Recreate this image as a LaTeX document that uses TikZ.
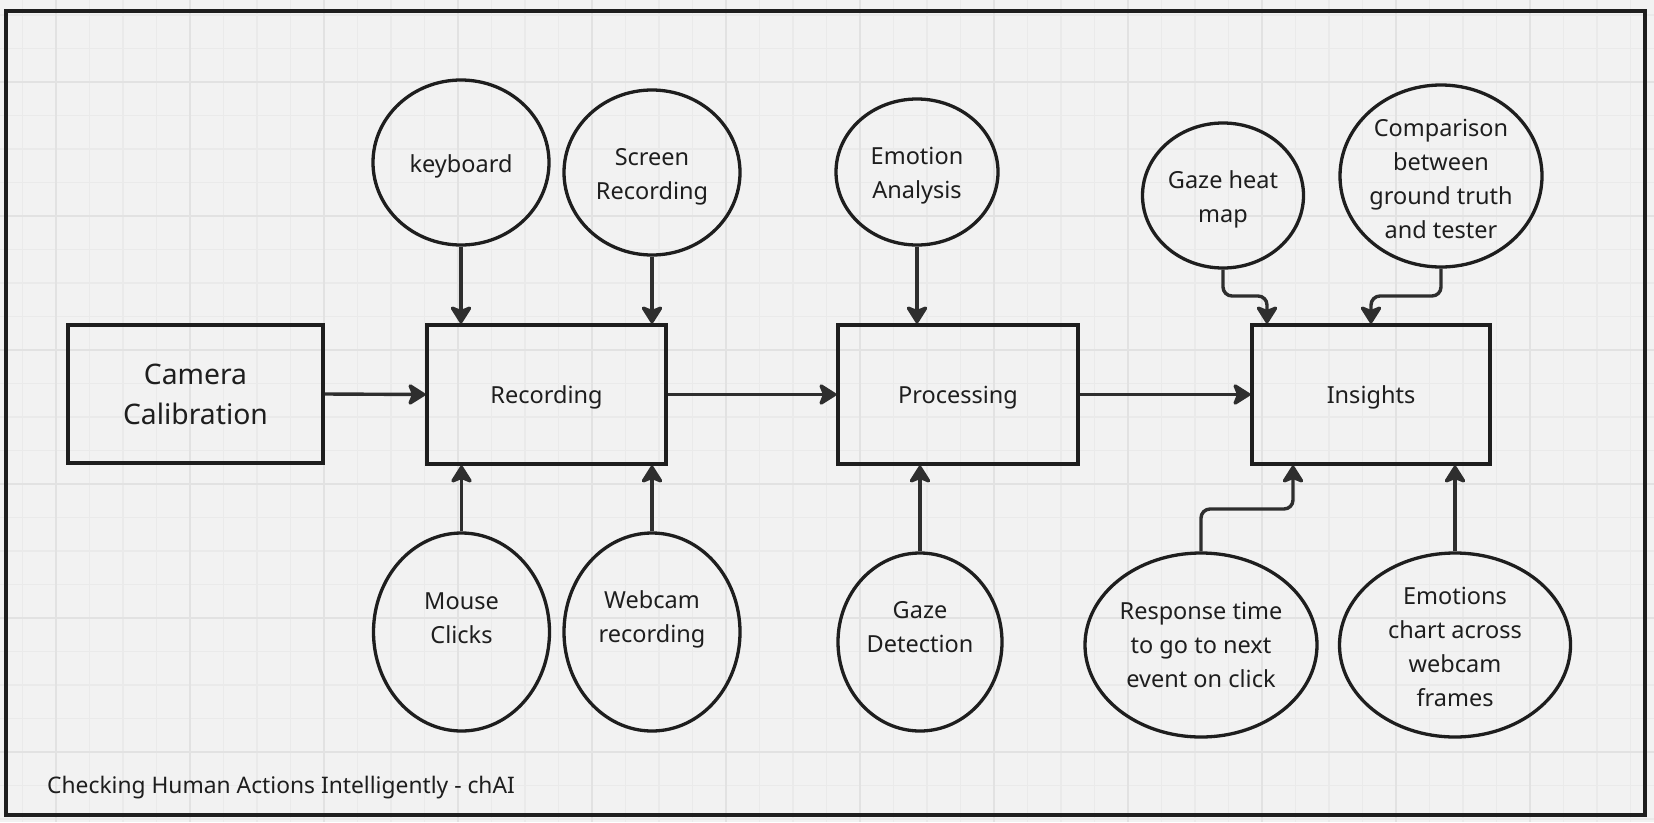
\documentclass[tikz,border=0pt]{standalone}
\usepackage{fontspec}
\setmainfont{Noto Sans}
\usetikzlibrary{shapes.geometric,arrows.meta}
\definecolor{bg}{HTML}{F2F2F2}
\definecolor{gminor}{HTML}{EAEAEA}
\definecolor{gmajor}{HTML}{E2E2E2}
\definecolor{ink}{HTML}{1E1E1E}
\definecolor{arr}{HTML}{2E2E2E}
\begin{document}
\begin{tikzpicture}[x=1pt,y=-1pt,
  box/.style={draw=ink,line width=3.3pt,rectangle,inner sep=0pt},
  bubble/.style={draw=ink,line width=3.3pt,ellipse,inner sep=0pt},
  txt/.style={align=center,font=\fontsize{23.5}{34}\selectfont,text=ink,inner sep=0pt},
  bigtxt/.style={align=center,font=\fontsize{28.3}{40}\selectfont,text=ink,inner sep=0pt},
  flow/.style={draw=arr,line width=3.4pt,-{Stealth[length=20pt,width=25pt,inset=5pt,round]},rounded corners=9pt},
  minorline/.style={draw=gminor,line width=1.5pt},
  majorline/.style={draw=gmajor,line width=2pt}
]
\useasboundingbox (0,0) rectangle (1654,822);
\fill[bg] (0,0) rectangle (1654,822);
% grid
\foreach \i in {0,...,48} {\draw[minorline] ({22.5+33.5*\i},0) -- ++(0,822);}
\foreach \i in {0,...,24} {\draw[minorline] (0,{15+33.5*\i}) -- ++(1654,0);}
\foreach \i in {0,...,11} {\draw[majorline] ({56+134*\i},0) -- ++(0,822);}
\foreach \i in {0,...,5} {\draw[majorline] (0,{82+134*\i}) -- ++(1654,0);}
% frame
\draw[ink,line width=3.3pt] (6,11) rectangle (1645,815);
% main boxes
\node[box,minimum width=255pt,minimum height=138pt,label={[bigtxt,name=cam-t]center:Camera\\Calibration}] (cam) at (195.5,394) {};
\node[box,minimum width=239pt,minimum height=139pt,label={[txt,name=rec-t,yshift=-3pt]center:Recording}] (rec) at (546.5,394.5) {};
\node[box,minimum width=240pt,minimum height=139pt,label={[txt,name=proc-t,yshift=-3pt]center:Processing}] (proc) at (958,394.5) {};
\node[box,minimum width=238pt,minimum height=139pt,label={[txt,name=ins-t,yshift=-3pt]center:Insights}] (ins) at (1371,394.5) {};
% bubbles
\node[bubble,minimum width=176pt,minimum height=165pt,label={[txt,name=kb-t,yshift=-4pt]center:keyboard}] (kb) at (461,162.5) {};
\node[bubble,minimum width=176pt,minimum height=165pt,label={[txt,name=scr-t,yshift=-4pt]center:Screen\\Recording}] (scr) at (652,172.5) {};
\node[bubble,minimum width=162pt,minimum height=146pt,label={[txt,name=emo-t,yshift=-4pt]center:Emotion\\Analysis}] (emo) at (917,172) {};
\node[bubble,minimum width=176pt,minimum height=198pt,label={[txt,name=mouse-t,yshift=14pt]center:Mouse\\Clicks}] (mouse) at (461.5,632) {};
\node[bubble,minimum width=176pt,minimum height=198pt,label={[txt,name=web-t,yshift=13pt]center:Webcam\\recording}] (web) at (652,632) {};
\node[bubble,minimum width=164pt,minimum height=178pt,label={[txt,name=gaze-t,yshift=15pt]center:Gaze\\Detection}] (gaze) at (920,642) {};
\node[bubble,minimum width=161pt,minimum height=145pt,label={[txt,name=heat-t,yshift=-4pt]center:Gaze heat\\map}] (heat) at (1223,195.5) {};
\node[bubble,minimum width=202pt,minimum height=182pt,label={[txt,name=comp-t,yshift=-3pt]center:Comparison\\between\\ground truth\\and tester}] (comp) at (1441,176) {};
\node[bubble,minimum width=232pt,minimum height=184pt,label={[txt,name=resp-t]center:Response time\\to go to next\\event on click}] (resp) at (1201,645) {};
\node[bubble,minimum width=231pt,minimum height=184pt,label={[txt,name=chart-t,yshift=-2pt]center:Emotions\\chart across\\webcam\\frames}] (chart) at (1455,645) {};
% footer
\node[anchor=base west,inner sep=0pt,font=\fontsize{22.8}{33}\selectfont,text=ink] (foot) at (47,793) {Checking Human Actions Intelligently - chAI};
% connectors
\draw[flow] (cam.east) -- (rec.west);
\draw[flow] (rec.east) -- (proc.west);
\draw[flow] (proc.east) -- (ins.west);
\draw[flow] (kb.south) -- (kb.south |- rec.north);
\draw[flow] (scr.south) -- (scr.south |- rec.north);
\draw[flow] (mouse.north) -- (mouse.north |- rec.south);
\draw[flow] (web.north) -- (web.north |- rec.south);
\draw[flow] (emo.south) -- (emo.south |- proc.north);
\draw[flow] (gaze.north) -- (gaze.north |- proc.south);
\coordinate (hb) at (1267,296);
\coordinate (cb) at (1371,296);
\coordinate (rb) at (1293,509);
\draw[flow] (heat.south) |- (hb) -- (hb |- ins.north);
\draw[flow] (comp.south) |- (cb) -- (cb |- ins.north);
\draw[flow] (resp.north) |- (rb) -- (rb |- ins.south);
\draw[flow] (chart.north) -- (chart.north |- ins.south);
\end{tikzpicture}
\end{document}
